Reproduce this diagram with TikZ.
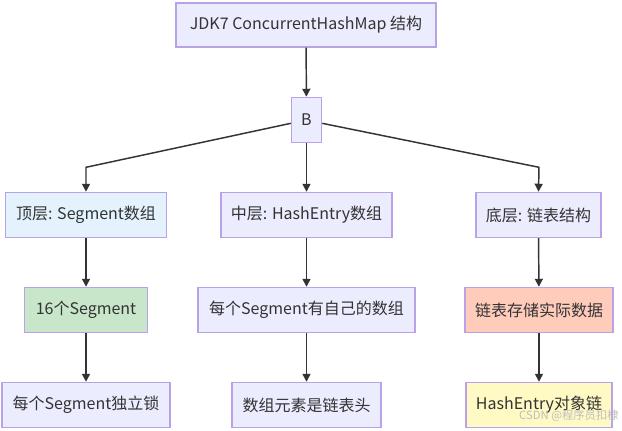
\documentclass[tikz,border=0pt]{standalone}
\usepackage{fontspec}
\setmainfont{Noto Sans CJK SC}
\usetikzlibrary{arrows.meta}
\definecolor{nodefill}{HTML}{ECECFF}
\definecolor{nodeline}{RGB}{185,162,232}
\definecolor{txt}{HTML}{333333}
\definecolor{edgec}{HTML}{333333}
\definecolor{fblue}{HTML}{E3F2FD}
\definecolor{fgreen}{HTML}{C8E6C9}
\definecolor{forange}{HTML}{FFCCBC}
\definecolor{fyellow}{HTML}{FFF9C4}
\begin{document}
\begin{tikzpicture}[x=0.75pt,y=-0.75pt,
  box/.style={draw=nodeline, fill=nodefill, line width=1.1pt, minimum height=45*0.75pt,
    inner sep=0pt, text=txt, font=\fontsize{12}{14}\selectfont},
  link/.style={draw=edgec, line width=1.1pt, -{Triangle[length=6pt,width=6pt]}}]
\useasboundingbox[fill=white] (0,0) rectangle (622,431);
% nodes
\node[box, minimum width=260*0.75pt, minimum height=44*0.75pt] (top) at (306,25) {JDK7 ConcurrentHashMap 结构};
\node[box, minimum width=30*0.75pt] (B) at (306.5,120) {B};
\node[box, fill=fblue, minimum width=161*0.75pt] (L2) at (86,215) {顶层: Segment数组};
\node[box, minimum width=171*0.75pt] (M2) at (306.5,215) {中层: HashEntry数组};
\node[box, minimum width=125*0.75pt] (R2) at (538.5,215) {底层: 链表结构};
\node[box, fill=fgreen, minimum width=123.5*0.75pt] (L3) at (86,310) {16个Segment};
\node[box, minimum width=217*0.75pt] (M3) at (306.5,310) {每个Segment有自己的数组};
\node[box, fill=forange, minimum width=148*0.75pt] (R3) at (539,310) {链表存储实际数据};
\node[box, minimum width=168*0.75pt] (L4) at (86,405) {每个Segment独立锁};
\node[box, minimum width=149*0.75pt] (M4) at (306.5,405) {数组元素是链表头};
\node[box, fill=fyellow, minimum width=146*0.75pt] (R4) at (539,405) {HashEntry对象链};
% bend points
\coordinate (cl) at (86,167.3);
\coordinate (cr) at (539,167.3);
% connectors
\draw[link] (top) -- (B);
\draw[link] ([yshift=-2.5pt]B.west) -- (cl) -- (L2.north);
\draw[link] (B) -- (M2);
\draw[link] ([yshift=-2.5pt]B.east) -- (cr) -- (R2.north);
\draw[link] (L2) -- (L3);
\draw[link] (L3) -- (L4);
\draw[link] (M2) -- (M3);
\draw[link] (M3) -- (M4);
\draw[link] (R2) -- (R3);
\draw[link] (R3) -- (R4);
% watermark
\node[anchor=east, text=black!25, font=\fontsize{8.5}{10}\selectfont, inner sep=0pt] (wm) at (619,416) {CSDN @程序员扣棣};
\end{tikzpicture}
\end{document}
